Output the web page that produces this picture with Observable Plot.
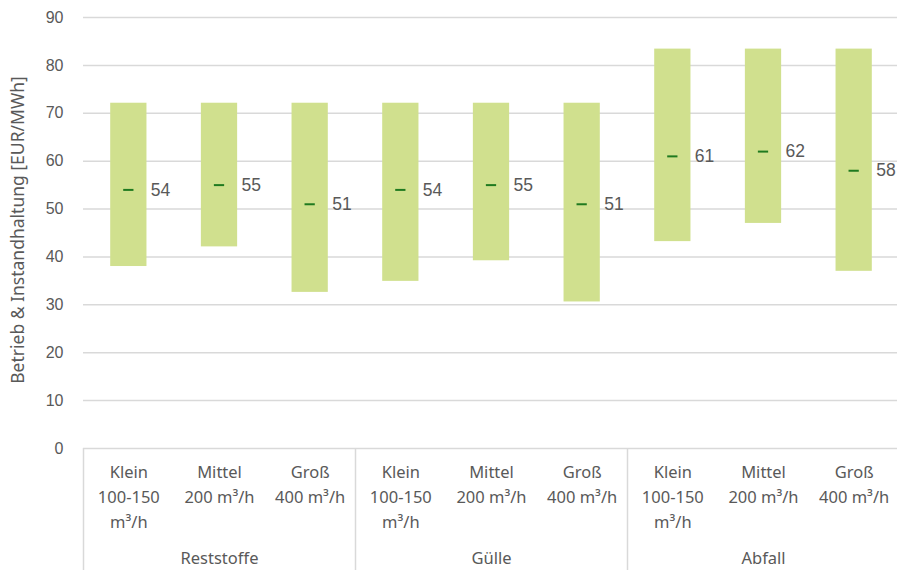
<!DOCTYPE html>
<html>
<head>
<meta charset="utf-8">
<script src="https://cdn.jsdelivr.net/npm/d3@7"></script>
<script src="https://cdn.jsdelivr.net/npm/@observablehq/plot@0.6"></script>
<style>
  html, body { margin: 0; padding: 0; background: #fff; }
  #chart svg { display: block; }
</style>
</head>
<body>
<div id="chart"></div>
<script>
// Feedstock groups and plant sizes
const groups = ["Reststoffe", "Gülle", "Abfall"];
const sizes = ["Klein", "Mittel", "Groß"];
const sizeLabels = ["Klein\n100-150\nm³/h", "Mittel\n200 m³/h", "Groß\n400 m³/h"];

// Operation & maintenance cost ranges [EUR/MWh], in group order, then size order
const lowValues  = [38.0, 42.1, 32.6, 34.9, 39.2, 30.6, 43.2, 47.0, 37.0];
const highValues = [72.1, 72.1, 72.1, 72.1, 72.1, 72.1, 83.4, 83.4, 83.4];
const midValues  = [54, 55, 51, 54, 55, 51, 61, 62, 58];

const yTicks = [0, 10, 20, 30, 40, 50, 60, 70, 80, 90];

const rows = [];
groups.forEach((g, gi) => sizes.forEach((s, si) => {
  const i = gi * sizes.length + si;
  rows.push({key: `${g}|${s}`, group: g, size: s, sizeLabel: sizeLabels[si],
             low: lowValues[i], high: highValues[i], mid: midValues[i]});
}));
const keys = rows.map(d => d.key);
const labelOf = new Map(rows.map(d => [d.key, d.sizeLabel]));

const W = 897, H = 570;
const marginLeft = 83, marginRight = -2, marginTop = 17, marginBottom = 122;
const step = (W - marginLeft - marginRight) / keys.length;

const gridColor = "#d9d9d9";
const textColor = "#595959";
const axisFont = "Liberation Sans, Arial, sans-serif";
const catFont = "Noto Sans, Open Sans, sans-serif";

// First category of each group marks a separator on its left edge
const groupStarts = rows.filter(d => d.size === sizes[0]);
// Middle category of each group carries the group name
const groupMids = rows.filter(d => d.size === sizes[1]);

const chart = Plot.plot({
  width: W,
  height: H,
  marginLeft, marginRight, marginTop, marginBottom,
  style: {background: "#fff", overflow: "visible"},
  x: {type: "band", domain: keys, paddingInner: 0.6, paddingOuter: 0.3, align: 0.5, round: false},
  y: {domain: [0, 90]},
  marks: [
    // horizontal gridlines incl. baseline
    Plot.ruleY(yTicks, {stroke: gridColor, strokeWidth: 1.5}),
    // group separators below the baseline
    Plot.ruleX(groupStarts, {x: "key", dx: -step / 2, y1: 0, y2: -26, stroke: gridColor, strokeWidth: 1.5}),
    Plot.axisY({
      ticks: yTicks, tickSize: 0, tickPadding: 20,
      fontSize: 16, fontFamily: axisFont, color: textColor,
      label: null
    }),
    // y-axis title
    Plot.text(["Betrieb & Instandhaltung [EUR/MWh]"], {
      text: d => d, frameAnchor: "left", dx: -65, dy: -3, rotate: -90,
      fontSize: 17.5, fontFamily: catFont, fill: textColor, textAnchor: "middle", lineAnchor: "middle"
    }),
    Plot.axisX({
      tickSize: 0, tickPadding: 12,
      tickFormat: k => labelOf.get(k),
      fontSize: 16.5, fontFamily: catFont, color: textColor,
      lineHeight: 1.5, label: null
    }),
    // group names
    Plot.text(groupMids, {
      x: "key", text: "group", frameAnchor: "bottom", dy: 110,
      fontSize: 16.5, fontFamily: catFont, fill: textColor, lineAnchor: "middle"
    }),
    // min–max range bars
    Plot.barY(rows, {x: "key", y1: "low", y2: "high", fill: "#d0e08e"}),
    // mean marker
    Plot.tickY(rows, {x: "key", y: "mid", stroke: "#1f7a1f", strokeWidth: 2, insetLeft: 13, insetRight: 13}),
    // mean value labels
    Plot.text(rows, {
      x: "key", y: "mid", text: d => d3.format("d")(d.mid),
      dx: 22, textAnchor: "start", fontSize: 17.5, fontFamily: axisFont, fill: textColor
    })
  ]
});

document.getElementById("chart").appendChild(chart);
</script>
</body>
</html>
